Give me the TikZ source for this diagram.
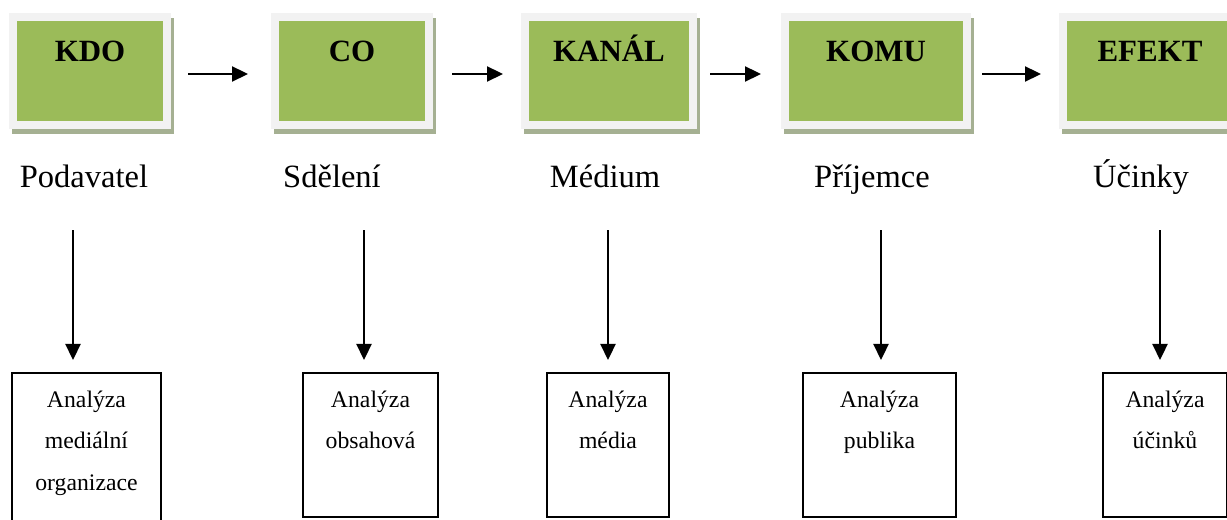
\documentclass[tikz,border=0pt]{standalone}
\usepackage{fontspec}
\setmainfont{Liberation Serif}
\usepackage{tikz}
\usepackage{xcolor}
\usetikzlibrary{arrows.meta,shadows}
\definecolor{boxgreen}{HTML}{9BBB59}
\definecolor{framegray}{HTML}{F2F2F2}
\definecolor{shadowgreen}{HTML}{A5B092}
\renewcommand{\arraystretch}{1.475}

\begin{document}
\begin{tikzpicture}[
    stage/.style={fill=boxgreen, draw=framegray, line width=0.16cm, inner ysep=0pt,
        text height=0.88cm, text depth=1.28cm, font=\fontsize{17.6}{20}\selectfont\bfseries,
        general shadow={fill=shadowgreen, draw=shadowgreen, line width=0.16cm, shadow xshift=0.06cm, shadow yshift=-0.1cm}},
    role/.style={inner sep=0pt, anchor=base, text height=0.5cm, text depth=0.2cm, font=\fontsize{18.5}{22}\selectfont},
    analysis/.style={draw, line width=0.04cm, anchor=north, inner ysep=0pt, text height=0.68cm, text depth=2.2cm,
        font=\fontsize{13.5}{16.2}\selectfont},
    flow/.style={-{Triangle[length=0.32cm,width=0.3cm]}, line width=0.045cm}
]
                \useasboundingbox (0,0) rectangle (24.54,-10.4);
                \node[stage, minimum width=3.08cm] (kdo) at (1.80,-1.43) {KDO};
                \node[stage, minimum width=3.08cm] (co) at (7.04,-1.43) {CO};
                \node[stage, minimum width=3.36cm] (kanal) at (12.18,-1.43) {KANÁL};
                \node[stage, minimum width=3.64cm] (komu) at (17.52,-1.43) {KOMU};
                \node[stage, minimum width=3.48cm] (efekt) at (23.00,-1.43) {EFEKT};
                \foreach \a/\b/\s/\t in {kdo/co/0.34/0.46, co/kanal/0.38/0.36, kanal/komu/0.26/0.40, komu/efekt/0.22/0.36}
                    \draw[flow, shorten <=\s cm, shorten >=\t cm] ([yshift=-0.05cm]\a.east) -- ([yshift=-0.05cm]\b.west);
                \node[role] (pod) at (1.68,-3.76) {Podavatel};
                \node[role] (sde) at (6.64,-3.76) {Sdělení};
                \node[role] (med) at (12.10,-3.76) {Médium};
                \node[role] (pri) at (17.44,-3.76) {Příjemce};
                \node[role] (uci) at (22.82,-3.76) {Účinky};
                \node[analysis, minimum width=2.98cm, text depth=3.1cm] (ana1) at (1.73,-7.44)
                    {\begin{tabular}[t]{@{}c@{}}Analýza\\mediální\\organizace\end{tabular}};
                \node[analysis, minimum width=2.70cm] (ana2) at (7.41,-7.44)
                    {\begin{tabular}[t]{@{}c@{}}Analýza\\obsahová\end{tabular}};
                \node[analysis, minimum width=2.44cm] (ana3) at (12.16,-7.44)
                    {\begin{tabular}[t]{@{}c@{}}Analýza\\média\end{tabular}};
                \node[analysis, minimum width=3.06cm] (ana4) at (17.59,-7.44)
                    {\begin{tabular}[t]{@{}c@{}}Analýza\\publika\end{tabular}};
                \node[analysis, minimum width=2.48cm] (ana5) at (23.30,-7.44)
                    {\begin{tabular}[t]{@{}c@{}}Analýza\\účinků\end{tabular}};
                \foreach \l/\b/\dx in {pod/ana1/-0.27, sde/ana2/-0.13, med/ana3/0, pri/ana4/0.03, uci/ana5/-0.1}
                    \draw[flow, shorten <=0.64cm, shorten >=0.24cm] ([xshift=\dx cm]\b.north |- \l.south) -- ([xshift=\dx cm]\b.north);
            \end{tikzpicture}
\end{document}
